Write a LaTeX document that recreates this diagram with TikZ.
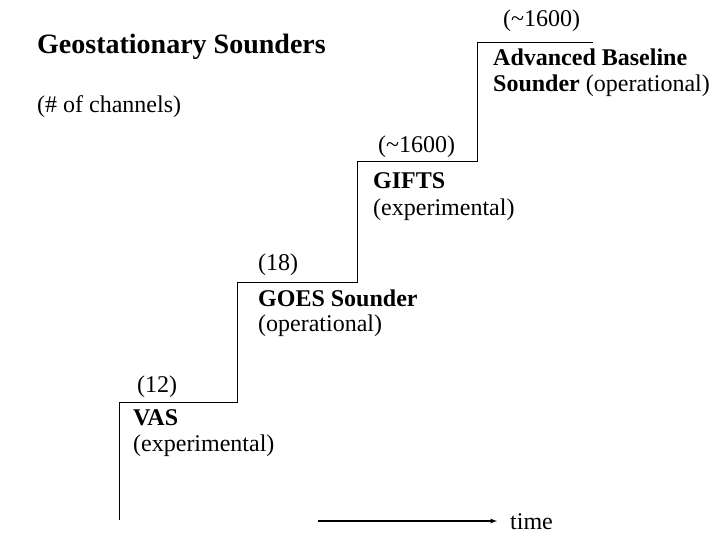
\documentclass[tikz,border=0pt]{standalone}
\usepackage{fontspec}
\setmainfont{Liberation Serif}
\begin{document}
\begin{tikzpicture}[x=1pt,y=-1pt,
  lbl/.style={anchor=west,inner sep=0pt,font=\fontsize{24}{26}\selectfont},
  stair/.style={line width=0.8pt,black}]
\useasboundingbox (0,0) rectangle (720,540);
\node[lbl,font=\fontsize{28}{30}\selectfont\bfseries] (title) at (37,47) {Geostationary Sounders};
\node[lbl] (chan) at (37,107) {(\# of channels)};
% labels
\node[lbl] (a1) at (503,21) {(\textasciitilde1600)};
\node[lbl] (a2) at (493,57) {\textbf{Advanced Baseline}};
\node[lbl] (a3) at (493,86) {\textbf{Sounder} (operational)};
\node[lbl] (g1) at (378,147) {(\textasciitilde1600)};
\node[lbl] (g2) at (373,181) {\textbf{GIFTS}};
\node[lbl] (g3) at (373,210) {(experimental)};
\node[lbl] (s1) at (258,265) {(18)};
\node[lbl] (s2) at (258,298) {\textbf{GOES Sounder}};
\node[lbl] (s3) at (258,326) {(operational)};
\node[lbl] (v1) at (137,387) {(12)};
\node[lbl] (v2) at (133,418) {\textbf{VAS}};
\node[lbl] (v3) at (133,446) {(experimental)};
\node[lbl] (time) at (510,522) {time};
% staircase
\coordinate (p0) at (119,520);
\coordinate (p1) at (119,402);
\coordinate (p2) at (237,402);
\coordinate (p3) at (237,282);
\coordinate (p4) at (357,282);
\coordinate (p5) at (357,161);
\coordinate (p6) at (477,161);
\coordinate (p7) at (477,42);
\coordinate (p8) at (593,42);
\draw[stair] (p0) -- (p1) -- (p2) -- (p3) -- (p4) -- (p5) -- (p6) -- (p7) -- (p8);
\coordinate (t0) at (318,521);
\coordinate (t1) at (497,521);
\draw[line width=1.2pt,-latex] (t0) -- (t1);
\end{tikzpicture}
\end{document}
